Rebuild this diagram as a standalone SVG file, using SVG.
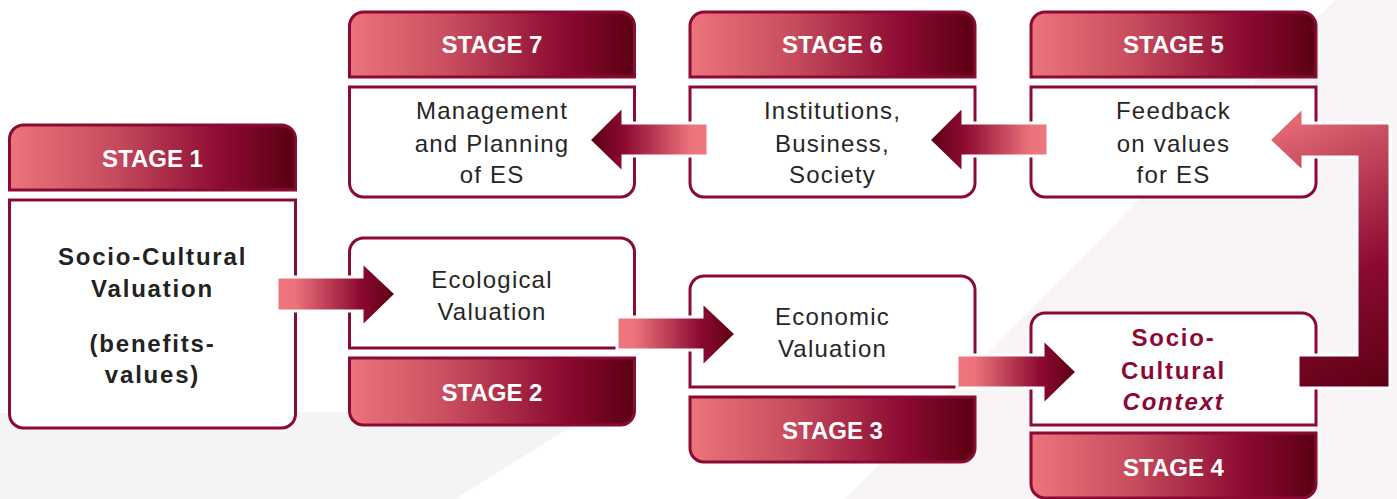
<svg xmlns="http://www.w3.org/2000/svg" width="1397" height="499" viewBox="0 0 1397 499">
<defs>
<linearGradient id="hg" x1="0" y1="0" x2="1" y2="0">
<stop offset="0" stop-color="#ec747c"/>
<stop offset="0.35" stop-color="#c84e5f"/>
<stop offset="0.75" stop-color="#8c0a31"/>
<stop offset="1" stop-color="#5a0012"/>
</linearGradient>
<linearGradient id="ar" x1="0" y1="0" x2="1" y2="0">
<stop offset="0" stop-color="#ee767e"/>
<stop offset="0.15" stop-color="#ec737c"/>
<stop offset="0.7" stop-color="#8c0a31"/>
<stop offset="1" stop-color="#5a0012"/>
</linearGradient>
<linearGradient id="al" x1="1" y1="0" x2="0" y2="0">
<stop offset="0" stop-color="#ee767e"/>
<stop offset="0.15" stop-color="#ec737c"/>
<stop offset="0.7" stop-color="#8c0a31"/>
<stop offset="1" stop-color="#5a0012"/>
</linearGradient>
<linearGradient id="fb" gradientUnits="userSpaceOnUse" x1="1269" y1="110" x2="1395" y2="390">
<stop offset="0" stop-color="#ec747c"/>
<stop offset="0.6" stop-color="#8c0a31"/>
<stop offset="1" stop-color="#5a0012"/>
</linearGradient>
<style>
.hd{fill:url(#hg);stroke:#8b0a33;stroke-width:3}
.bx{fill:#fff;stroke:#8b0a33;stroke-width:3}
.st{font-family:"Liberation Sans",Arial,sans-serif;font-weight:700;font-size:24px;fill:#fff;text-anchor:middle}
.tx{font-family:"Liberation Sans",Arial,sans-serif;font-size:24px;fill:#262626;text-anchor:middle;letter-spacing:1.2px}
.tb{font-family:"Liberation Sans",Arial,sans-serif;font-weight:700;font-size:24px;fill:#222;text-anchor:middle;letter-spacing:1.8px}
.tc{font-family:"Liberation Sans",Arial,sans-serif;font-weight:700;font-size:24px;fill:#8b0a33;text-anchor:middle;letter-spacing:1.8px}
.aw{stroke:#fff;stroke-width:3;stroke-linejoin:miter}
</style>
</defs>
<rect width="1397" height="499" fill="#fff"/>
<path d="M0 413 Q300 408 585 418 L455 499 L0 499 Z" fill="#f4f4f6"/>
<path d="M1335 0 L1397 0 L1397 499 L845 499 Z" fill="#f8f4f5"/>

<g id="stage1">
<path class="hd" d="M9.5 190 V139 a14 14 0 0 1 14 -14 H281.5 a14 14 0 0 1 14 14 V190 Z"/>
<path class="bx" d="M9.5 200 H295.5 V414 a14 14 0 0 1 -14 14 H23.5 a14 14 0 0 1 -14 -14 Z"/>
<text class="st" x="152.5" y="167">STAGE 1</text>
<text class="tb" x="152.5" y="265">Socio-Cultural</text>
<text class="tb" x="152.5" y="297">Valuation</text>
<text class="tb" x="152.5" y="352">(benefits-</text>
<text class="tb" x="152.5" y="383">values)</text>
</g>

<g id="stage2">
<path class="bx" d="M349.5 348 V252 a14 14 0 0 1 14 -14 H620.5 a14 14 0 0 1 14 14 V348 Z"/>
<path class="hd" d="M349.5 358 H634.5 V411 a14 14 0 0 1 -14 14 H363.5 a14 14 0 0 1 -14 -14 Z"/>
<text class="st" x="492" y="401">STAGE 2</text>
<text class="tx" x="492" y="288">Ecological</text>
<text class="tx" x="492" y="320">Valuation</text>
</g>

<g id="stage3">
<path class="bx" d="M690 387 V290 a14 14 0 0 1 14 -14 H961 a14 14 0 0 1 14 14 V387 Z"/>
<path class="hd" d="M690 397 H975 V448 a14 14 0 0 1 -14 14 H704 a14 14 0 0 1 -14 -14 Z"/>
<text class="st" x="832.5" y="439">STAGE 3</text>
<text class="tx" x="832.5" y="325">Economic</text>
<text class="tx" x="832.5" y="357">Valuation</text>
</g>

<g id="stage4">
<path class="bx" d="M1031 425 V327 a14 14 0 0 1 14 -14 H1302 a14 14 0 0 1 14 14 V425 Z"/>
<path class="hd" d="M1031 433 H1316 V484 a14 14 0 0 1 -14 14 H1045 a14 14 0 0 1 -14 -14 Z"/>
<text class="st" x="1173.5" y="476">STAGE 4</text>
<text class="tc" x="1173.5" y="346">Socio-</text>
<text class="tc" x="1173.5" y="379">Cultural</text>
<text class="tc" x="1173.5" y="410" font-style="italic">Context</text>
</g>

<g id="stage5">
<path class="hd" d="M1031 77 V26 a14 14 0 0 1 14 -14 H1302 a14 14 0 0 1 14 14 V77 Z"/>
<path class="bx" d="M1031 87 H1316 V183 a14 14 0 0 1 -14 14 H1045 a14 14 0 0 1 -14 -14 Z"/>
<text class="st" x="1173.5" y="53">STAGE 5</text>
<text class="tx" x="1173.5" y="119">Feedback</text>
<text class="tx" x="1173.5" y="152">on values</text>
<text class="tx" x="1173.5" y="183">for ES</text>
</g>

<g id="stage6">
<path class="hd" d="M690 77 V26 a14 14 0 0 1 14 -14 H961 a14 14 0 0 1 14 14 V77 Z"/>
<path class="bx" d="M690 87 H975 V183 a14 14 0 0 1 -14 14 H704 a14 14 0 0 1 -14 -14 Z"/>
<text class="st" x="832.5" y="53">STAGE 6</text>
<text class="tx" x="832.5" y="119">Institutions,</text>
<text class="tx" x="832.5" y="152">Business,</text>
<text class="tx" x="832.5" y="183">Society</text>
</g>

<g id="stage7">
<path class="hd" d="M349.5 77 V26 a14 14 0 0 1 14 -14 H620.5 a14 14 0 0 1 14 14 V77 Z"/>
<path class="bx" d="M349.5 87 H634.5 V183 a14 14 0 0 1 -14 14 H363.5 a14 14 0 0 1 -14 -14 Z"/>
<text class="st" x="492" y="53">STAGE 7</text>
<text class="tx" x="492" y="119">Management</text>
<text class="tx" x="492" y="152">and Planning</text>
<text class="tx" x="492" y="183">of ES</text>
</g>

<g id="connectors">
<polygon class="aw" fill="url(#ar)" points="277,277 362,277 362,262 396,294 362,327 362,311 277,311"/>
<polygon class="aw" fill="url(#ar)" points="617,317 702,317 702,302 736,334 702,367 702,350 617,350"/>
<polygon class="aw" fill="url(#ar)" points="957,355 1043,355 1043,339 1077,372 1043,405 1043,388 957,388"/>
<polygon class="aw" fill="url(#al)" points="1048,123 963,123 963,106 929,140 963,173 963,156 1048,156"/>
<polygon class="aw" fill="url(#al)" points="708,123 623,123 623,106 589,140 623,173 623,156 708,156"/>
<polygon class="aw" fill="url(#fb)" points="1298,355 1357,355 1357,157 1303,157 1303,172 1269,140 1303,107 1303,123 1390,123 1390,388 1298,388"/>
</g>
</svg>
